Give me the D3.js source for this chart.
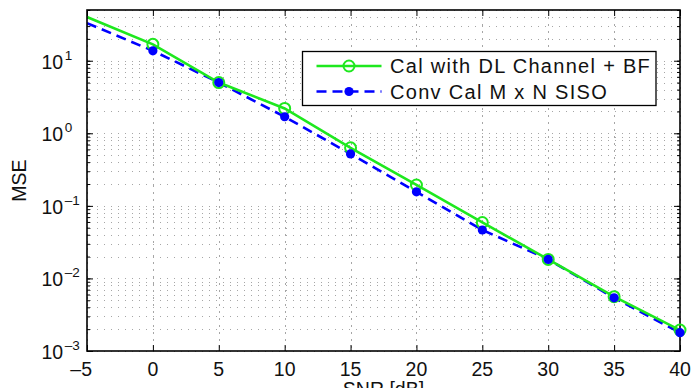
<!DOCTYPE html>
<html>
<head>
<meta charset="utf-8">
<script src="https://cdn.jsdelivr.net/npm/d3@7"></script>
<style>
  html, body { margin: 0; padding: 0; background: #fff; }
  svg { display: block; font-family: "Liberation Sans", Arial, Helvetica, sans-serif; }
</style>
</head>
<body>
<svg id="chart" width="692" height="388"></svg>
<script>
// ---- data ----
const snr = [-5, 0, 5, 10, 15, 20, 25, 30, 35, 40];
const calDL = [40, 16.8, 5.0, 2.2, 0.63, 0.194, 0.059, 0.0183, 0.0056, 0.00194];
const convCal = [33, 13.7, 5.0, 1.69, 0.52, 0.156, 0.0465, 0.0183, 0.0054, 0.00179];
const seriesNames = ["Cal with DL Channel + BF", "Conv Cal M x N SISO"];
const xTicks = [-5, 0, 5, 10, 15, 20, 25, 30, 35, 40];
const yTickExps = [-3, -2, -1, 0, 1];
const xLabel = "SNR [dB]";
const yLabel = "MSE";

// ---- layout ----
const svg = d3.select("#chart");
const L = 87, R = 680, T = 10, B = 351;
const x = d3.scaleLinear().domain([-5, 40]).range([L, R]);
const y = d3.scaleLog().domain([1e-3, 50]).range([B, T]);

// grid
const minorVals = [];
for (let e = -3; e <= 1; e++) for (let m = 1; m <= 9; m++) {
  const v = m * Math.pow(10, e);
  if (v >= 1e-3 && v <= 50) minorVals.push(v);
}
const grid = svg.append("g").attr("stroke", "#a6a6a6").attr("stroke-width", 1)
  .attr("stroke-dasharray", "1,6").attr("fill", "none");
minorVals.forEach(v => {
  const yy = Math.round(y(v)) + 0.5;
  grid.append("line").attr("x1", L + 3).attr("x2", R).attr("y1", yy).attr("y2", yy);
});
xTicks.forEach(t => {
  const xx = Math.round(x(t)) + 0.5;
  grid.append("line").attr("x1", xx).attr("x2", xx).attr("y1", T).attr("y2", B)
    .attr("stroke-dasharray", "2,5");
});

// axes via d3 axis (inner ticks)
const axB = d3.axisBottom(x).tickValues(xTicks).tickSize(-6).tickFormat("");
const axT = d3.axisTop(x).tickValues(xTicks).tickSize(-6).tickFormat("");
const axL = d3.axisLeft(y).tickValues(minorVals).tickSize(-3).tickFormat("");
const axR = d3.axisRight(y).tickValues(minorVals).tickSize(-3).tickFormat("");
const axLM = d3.axisLeft(y).tickValues(yTickExps.map(e => Math.pow(10, e))).tickSize(-6).tickFormat("");
const axRM = d3.axisRight(y).tickValues(yTickExps.map(e => Math.pow(10, e))).tickSize(-6).tickFormat("");
[[axB, `translate(0,${B})`], [axT, `translate(0,${T})`], [axL, `translate(${L},0)`],
 [axR, `translate(${R},0)`], [axLM, `translate(${L},0)`], [axRM, `translate(${R},0)`]].forEach(([a, tr]) => {
  const g = svg.append("g").attr("transform", tr).call(a);
  g.select(".domain").remove();
  g.selectAll(".tick line").attr("stroke", "#000").attr("stroke-width", 1);
});

// series
const clipId = "clip";
svg.append("clipPath").attr("id", clipId).append("rect")
  .attr("x", L).attr("y", T).attr("width", R - L).attr("height", B - T);
const line = d3.line().x(d => x(d[0])).y(d => y(d[1]));
const dGreen = snr.map((s, i) => [s, calDL[i]]);
const dBlue = snr.map((s, i) => [s, convCal[i]]);
const plot = svg.append("g").attr("clip-path", `url(#${clipId})`);
plot.append("path").datum(dBlue).attr("d", line).attr("fill", "none")
  .attr("stroke", "#0000ff").attr("stroke-width", 2.6).attr("stroke-dasharray", "10,6");
plot.append("path").datum(dGreen).attr("d", line).attr("fill", "none")
  .attr("stroke", "#1ee81e").attr("stroke-width", 2.6);

// box
svg.append("rect").attr("x", L).attr("y", T).attr("width", R - L).attr("height", B - T)
  .attr("fill", "none").attr("stroke", "#000").attr("stroke-width", 1.6);

const marks = svg.append("g");
marks.selectAll(".mg").data(dGreen.filter(d => d[0] > -5)).enter().append("circle")
  .attr("cx", d => x(d[0])).attr("cy", d => y(d[1])).attr("r", 5.5)
  .attr("fill", "none").attr("stroke", "#1ee81e").attr("stroke-width", 2);
marks.selectAll(".mb").data(dBlue.filter(d => d[0] > -5)).enter().append("circle")
  .attr("cx", d => x(d[0])).attr("cy", d => y(d[1])).attr("r", 4.6)
  .attr("fill", "#0000ff");

// x tick labels
const fs = 19.5;
xTicks.forEach(t => {
  const neg = t < 0;
  svg.append("text").attr("x", neg ? x(t) + 5 : x(t)).attr("y", 375.5)
    .attr("text-anchor", neg ? "end" : "middle").attr("font-size", fs).attr("fill", "#111")
    .text(neg ? "\u2013" + Math.abs(t) : String(t));
});
// y tick labels
yTickExps.forEach(e => {
  const yy = y(Math.pow(10, e));
  const t = svg.append("text").attr("x", 41.5).attr("y", yy + 8).attr("font-size", fs).attr("fill", "#111");
  t.append("tspan").text("10");
  t.append("tspan").attr("dx", 1.5).attr("dy", -9).attr("font-size", 13.5)
    .text(e < 0 ? "\u2013" + Math.abs(e) : String(e));
});
// axis labels
svg.append("text").attr("x", (L + R) / 2).attr("y", 396).attr("text-anchor", "middle")
  .attr("font-size", fs).attr("fill", "#111").text(xLabel);
svg.append("text").attr("transform", `translate(26,${(T + B) / 2}) rotate(-90)`)
  .attr("text-anchor", "middle").attr("font-size", fs).attr("fill", "#111").text(yLabel);

// legend
const lg = svg.append("g");
lg.append("rect").attr("x", 302.5).attr("y", 51.5).attr("width", 353.5).attr("height", 54)
  .attr("fill", "#fff").attr("stroke", "#000").attr("stroke-width", 1.3);
const rows = [
  { name: seriesNames[0], color: "#1ee81e", dash: null, open: true, cy: 66 },
  { name: seriesNames[1], color: "#0000ff", dash: "10,6", open: false, cy: 91.5 }
];
rows.forEach(r => {
  lg.append("line").attr("x1", 316.5).attr("x2", 381.5).attr("y1", r.cy).attr("y2", r.cy)
    .attr("stroke", r.color).attr("stroke-width", 2.6).attr("stroke-dasharray", r.dash);
  lg.append("circle").attr("cx", 349).attr("cy", r.cy).attr("r", r.open ? 5.5 : 4.6)
    .attr("fill", r.open ? "none" : r.color).attr("stroke", r.open ? r.color : "none").attr("stroke-width", 2);
  lg.append("text").attr("x", 390).attr("y", r.cy + 7).attr("font-size", 20)
    .attr("letter-spacing", 1.3).attr("fill", "#111").text(r.name);
});
</script>
</body>
</html>
